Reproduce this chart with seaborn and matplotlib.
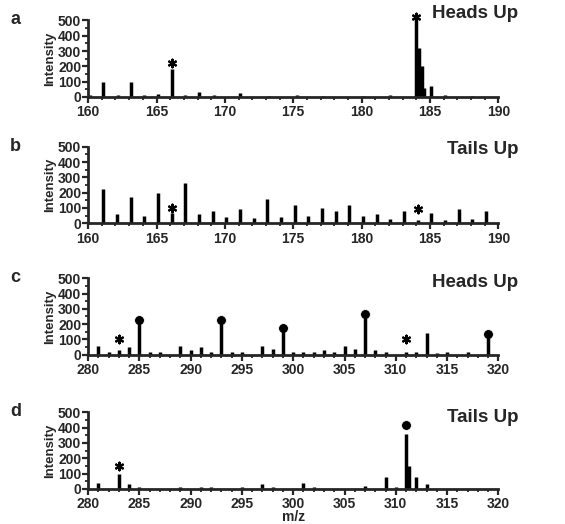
import numpy as np
import pandas as pd
import matplotlib
matplotlib.use("Agg")
import matplotlib.pyplot as plt
import seaborn as sns

# peak lists (m/z, intensity)
a_mz = [160.1, 161.1, 162.2, 163.1, 164.1, 165.1, 166.1, 167.1, 168.1, 169.2, 171.1, 173.2,
        175.3, 177.2, 180.1, 182.1, 184.0, 184.2, 184.4, 184.6, 185.1, 186.1, 188.1]
a_int = [15, 100, 15, 100, 10, 18, 180, 15, 35, 10, 25, 8, 15, 8, 8, 10, 540, 320, 200,
         60, 70, 10, 8]
a_star_mz = [166.1, 184.0]
a_star_int = [225, 520]

b_mz = [161.1, 162.1, 163.1, 164.1, 165.1, 166.1, 167.1, 168.1, 169.1, 170.1, 171.1,
        172.1, 173.1, 174.1, 175.1, 176.1, 177.1, 178.1, 179.1, 180.1, 181.1, 182.1,
        183.1, 184.1, 185.1, 186.1, 187.1, 188.1, 189.1]
b_int = [225, 60, 170, 50, 200, 70, 260, 60, 80, 40, 90, 35, 160, 40, 120, 50, 100, 80,
         120, 50, 60, 25, 80, 20, 70, 20, 90, 25, 80]
b_star_mz = [166.1, 184.1]
b_star_int = [100, 90]

c_mz = [281.0, 282.0, 283.0, 284.0, 285.0, 286.0, 287.0, 289.0, 290.0, 291.0, 292.0,
        293.0, 294.0, 295.0, 297.0, 298.0, 299.0, 300.0, 301.0, 302.0, 303.0, 304.0,
        305.0, 306.0, 307.0, 308.0, 309.0, 311.0, 312.0, 313.0, 314.0, 315.0, 317.0, 319.0]
c_int = [60, 20, 30, 50, 220, 20, 15, 60, 30, 50, 20, 220, 15, 15, 60, 40, 170, 15, 15,
         20, 30, 20, 60, 40, 260, 30, 15, 20, 15, 140, 10, 15, 15, 130]
c_dot_mz = [285.0, 293.0, 299.0, 307.0, 319.0]
c_dot_int = [230, 230, 175, 265, 135]
c_star_mz = [283.0, 311.0]
c_star_int = [100, 100]

d_mz = [281.0, 283.0, 284.0, 285.0, 289.0, 291.0, 292.0, 295.0, 297.0, 298.0, 301.0,
        302.0, 307.0, 309.0, 310.0, 311.0, 311.3, 312.0, 313.0]
d_int = [40, 100, 30, 15, 10, 10, 15, 15, 30, 15, 40, 15, 20, 80, 15, 360, 150, 80, 30]
d_dot_mz = [311.0]
d_dot_int = [420]
d_star_mz = [283.0]
d_star_int = [150]

sns.set_style("ticks")
plt.rcParams["font.family"] = ["Liberation Sans", "DejaVu Sans"]
plt.rcParams["font.weight"] = "bold"

fig = plt.figure(figsize=(5.65, 5.24), dpi=100)

# letter, title, x range, peaks, stars, dots, axes bottom, title y
panels = [
    ("a", "Heads Up", (160, 190), a_mz, a_int, a_star_mz, a_star_int, [], [], 0.815, 1.09),
    ("b", "Tails Up", (160, 190), b_mz, b_int, b_star_mz, b_star_int, [], [], 0.574, 0.96),
    ("c", "Heads Up", (280, 320), c_mz, c_int, c_star_mz, c_star_int, c_dot_mz, c_dot_int, 0.323, 0.94),
    ("d", "Tails Up", (280, 320), d_mz, d_int, d_star_mz, d_star_int, d_dot_mz, d_dot_int, 0.067, 0.93),
]

for letter, title, xr, mz, inten, smz, sint, dmz, dint, bottom, ty in panels:
    ax = fig.add_axes([0.156, bottom, 0.726, 0.146])
    df = pd.DataFrame({"mz": mz, "intensity": inten})
    ax.vlines(df["mz"], 0, df["intensity"], color="black", lw=2.5, clip_on=False)
    if smz:
        sns.scatterplot(x=smz, y=sint, marker=(6, 2, 0), s=30, color="black",
                        linewidth=1.6, edgecolor="black", ax=ax, clip_on=False, legend=False)
    if dmz:
        sns.scatterplot(x=dmz, y=dint, marker="o", s=50, color="black",
                        ax=ax, clip_on=False, legend=False)
    ax.set_xlim(*xr)
    ax.set_ylim(0, 500)
    ax.set_xticks(np.arange(xr[0], xr[1] + 1, 5))
    ax.set_xticks(np.arange(xr[0], xr[1] + 1, 1), minor=True)
    ax.set_yticks(np.arange(0, 501, 100))
    ax.set_yticks(np.arange(0, 501, 50), minor=True)
    ax.tick_params(axis="both", labelsize=10, width=1.6, length=4, pad=1)
    ax.tick_params(axis="x", pad=2)
    ax.tick_params(which="minor", width=1.3, length=2.5)
    for lab in ax.get_xticklabels() + ax.get_yticklabels():
        lab.set_fontweight("bold")
    for s in ["left", "bottom"]:
        ax.spines[s].set_linewidth(2)
    sns.despine(ax=ax)
    ax.set_ylabel("Intensity", fontsize=9.5, fontweight="bold", labelpad=1)
    ax.text(-0.19, 1.12, letter, transform=ax.transAxes, fontsize=13,
            fontweight="bold", va="top")
    ax.text(1.048, ty, title, transform=ax.transAxes, fontsize=13.5,
            fontweight="bold", ha="right", va="center")
    if letter == "d":
        ax.set_xlabel("m/z", fontsize=10, fontweight="bold", labelpad=-1)

fig.savefig("out.png", dpi=100)
